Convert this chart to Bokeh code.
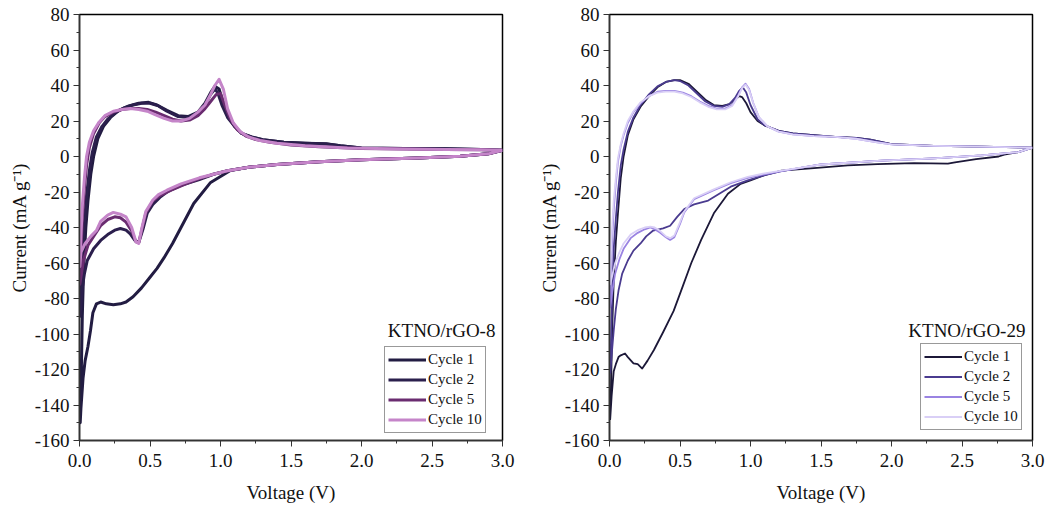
from bokeh.plotting import figure
from bokeh.layouts import row
from bokeh.models import Range1d, SingleIntervalTicker, PrintfTickFormatter, Label
from bokeh.embed import file_html
from bokeh.resources import INLINE

FONT = "Liberation Serif"

# ---------------- Left panel: KTNO/rGO-8 ----------------
L1_V = [3.0, 2.9, 2.7, 2.4, 2.0, 1.7, 1.4, 1.2, 1.07, 0.93, 0.81, 0.72, 0.66, 0.6, 0.55, 0.5, 0.44, 0.38, 0.33,
        0.29, 0.24, 0.19, 0.15, 0.12, 0.095, 0.078, 0.06, 0.04, 0.025, 0.01, 0.005,
        0.012, 0.02, 0.03, 0.045, 0.06, 0.08, 0.1, 0.13, 0.17, 0.22, 0.28, 0.35, 0.42, 0.49, 0.55, 0.62, 0.7,
        0.77, 0.84, 0.89, 0.93, 0.96, 0.99, 1.02, 1.06, 1.1, 1.15, 1.22, 1.3, 1.45, 1.6, 1.75, 1.85, 2.0, 2.3,
        2.6, 2.85, 3.0]
L1_I = [3.5, 1.5, 0.2, -0.8, -1.8, -3.0, -4.5, -6.0, -7.9, -14.6, -26.5, -40, -49, -57, -63, -68, -74, -79, -82,
        -83, -83.5, -83, -82, -83, -88, -98, -107, -115, -125, -142, -150,
        -125, -90, -62, -40, -25, -10, 0, 10, 17, 22, 26, 28.5, 30, 30.5, 29, 26, 23,
        22.5, 25, 30, 36, 39.5, 38, 30, 22, 17, 13, 11, 9.5, 8, 7.5, 7.2, 6, 4.8, 4.5,
        4.3, 4.0, 3.5]

L2_V = [3.0, 2.9, 2.7, 2.4, 2.0, 1.7, 1.4, 1.2, 1.05, 0.95, 0.85, 0.72, 0.63, 0.57, 0.52, 0.48, 0.45, 0.42, 0.39,
        0.36, 0.33, 0.29, 0.25, 0.2, 0.15, 0.1, 0.055, 0.035, 0.02, 0.01, 0.003,
        0.01, 0.02, 0.035, 0.05, 0.07, 0.09, 0.12, 0.16, 0.2, 0.26, 0.32, 0.38, 0.44, 0.5, 0.56, 0.62, 0.7, 0.77,
        0.84, 0.89, 0.93, 0.96, 0.98, 1.01, 1.05, 1.1, 1.15, 1.22, 1.3, 1.45, 1.6, 1.75, 1.85, 2.0, 2.3, 2.6,
        2.85, 3.0]
L2_I = [3.5, 1.5, 0.2, -0.8, -1.8, -3.0, -4.5, -6.0, -8.0, -10, -13, -16.3, -19.5, -23, -27, -32, -41, -48.5, -47,
        -43.6, -41.5, -40.6, -41.5, -44, -47.3, -52, -58.6, -66, -74, -84, -90,
        -75, -55, -38, -22, -8, 2, 11, 17, 21, 25, 27.5, 29, 30, 30, 28.5, 25.5, 22.5, 22,
        24.5, 29, 35, 38, 36, 29, 22, 17, 13, 11, 9.5, 8, 7.5, 7, 6, 4.8, 4.5, 4.3,
        4.0, 3.5]

L5_V = [3.0, 2.9, 2.7, 2.4, 2.0, 1.7, 1.4, 1.2, 1.05, 0.95, 0.85, 0.75, 0.65, 0.57, 0.52, 0.47, 0.44, 0.42, 0.4,
        0.37, 0.33, 0.29, 0.25, 0.2, 0.15, 0.1, 0.06, 0.03, 0.01, 0.002,
        0.01, 0.02, 0.035, 0.05, 0.07, 0.1, 0.14, 0.18, 0.24, 0.3, 0.36, 0.42, 0.48, 0.54, 0.6, 0.66, 0.72,
        0.78, 0.84, 0.89, 0.93, 0.97, 1.0, 1.03, 1.07, 1.12, 1.18, 1.25, 1.35, 1.5, 1.7, 2.0, 2.3, 2.6, 2.85, 3.0]
L5_I = [3.5, 1.5, 0.2, -0.8, -1.8, -3.0, -4.5, -6.0, -8, -10, -12.5, -15.5, -19, -22, -25, -32, -42, -48.5, -48,
        -42, -37, -34.5, -34, -35.5, -39, -45, -50, -58, -68, -72,
        -55, -35, -18, -5, 5, 13, 19, 22.5, 25, 26.5, 27, 27, 26.5, 25, 23, 21, 20,
        20.5, 23, 27, 31, 35, 35.5, 29, 21, 15, 11.5, 9.5, 8, 6.5, 5.5, 4.5, 4.2, 4.0, 3.8, 3.5]

L10_V = [3.0, 2.9, 2.7, 2.4, 2.0, 1.7, 1.4, 1.2, 1.05, 0.95, 0.85, 0.72, 0.62, 0.56, 0.52, 0.47, 0.44, 0.42, 0.4,
         0.37, 0.33, 0.29, 0.24, 0.2, 0.15, 0.12, 0.08, 0.04, 0.01, 0.002,
         0.01, 0.02, 0.035, 0.05, 0.07, 0.1, 0.14, 0.18, 0.24, 0.3, 0.36, 0.42, 0.48, 0.54, 0.6, 0.66, 0.72,
         0.78, 0.84, 0.89, 0.93, 0.96, 0.99, 1.02, 1.05, 1.09, 1.14, 1.2, 1.28, 1.4, 1.6, 1.9, 2.3, 2.6, 2.85, 3.0]
L10_I = [3.5, 1.5, 0.2, -0.8, -1.8, -3.0, -4.5, -6.0, -8, -10, -12, -15.4, -19, -21.5, -24.5, -31, -41, -49, -48,
         -40, -34, -32.5, -31.5, -33, -36.5, -41.7, -45, -49, -54, -62,
         -45, -28, -12, 0, 8, 14.5, 19.5, 23, 25.5, 26.5, 27, 26.5, 25.5, 23.5, 21.5, 20, 20,
         21.5, 25, 29, 35, 40, 43.5, 38, 27, 19, 14, 11, 9, 7.5, 6, 4.8, 4.2, 4.0, 3.8, 3.5]

# ---------------- Right panel: KTNO/rGO-29 ----------------
R1_V = [3.0, 2.9, 2.8, 2.76, 2.6, 2.45, 2.4, 2.16, 1.9, 1.69, 1.45, 1.22, 1.1, 1.0, 0.93, 0.84, 0.74, 0.65, 0.58,
        0.52, 0.455, 0.38, 0.315, 0.27, 0.232, 0.2, 0.17, 0.13, 0.11, 0.08, 0.064, 0.045, 0.03, 0.015, 0.005,
        0.012, 0.02, 0.03, 0.045, 0.06, 0.08, 0.1, 0.13, 0.17, 0.22, 0.28, 0.34, 0.4, 0.46, 0.5, 0.56, 0.62,
        0.68, 0.74, 0.8, 0.85, 0.89, 0.92, 0.94, 0.97, 1.0, 1.05, 1.1, 1.2, 1.3, 1.45, 1.6, 1.75, 1.85, 2.0,
        2.3, 2.64, 3.0]
R1_I = [5, 2.5, 1, 0, -1.5, -3.3, -4, -3.7, -4.3, -5, -6.5, -8, -10.5, -13.5, -15.4, -21, -32, -47, -60,
        -73, -87, -99, -109, -115, -119.5, -117, -116.5, -113, -111, -112, -113, -117, -121, -135, -148,
        -125, -95, -70, -48, -32, -12, 0, 12, 21, 28, 34, 39, 42, 43, 43, 41, 36.5,
        32, 29, 28.5, 29.5, 32, 34, 33.5, 30, 25, 20, 17.5, 14.5, 13, 12, 11, 10.5, 9.5, 7,
        6, 5.6, 5]

R2_V = [3.0, 2.9, 2.64, 2.3, 1.93, 1.5, 1.22, 1.1, 0.98, 0.86, 0.7, 0.6, 0.53, 0.48, 0.43, 0.38, 0.31,
        0.26, 0.22, 0.17, 0.13, 0.09, 0.064, 0.045, 0.03, 0.015, 0.005,
        0.012, 0.02, 0.03, 0.045, 0.06, 0.08, 0.1, 0.13, 0.17, 0.22, 0.28, 0.34, 0.4, 0.46, 0.5, 0.56, 0.62,
        0.68, 0.74, 0.8, 0.85, 0.89, 0.92, 0.945, 0.97, 1.0, 1.05, 1.1, 1.2, 1.3, 1.45, 1.6, 1.75, 1.85, 2.0,
        2.3, 2.64, 3.0]
R2_I = [5, 2.5, 0.6, -1, -2.3, -4.5, -8.3, -10.5, -13.5, -17, -24.8, -27, -29.6, -34, -39, -40.5, -41.7,
        -45, -49, -53, -58.6, -66, -75.5, -86, -98, -112, -122,
        -100, -75, -52, -35, -20, -5, 4, 14, 22, 29, 35, 39.5, 42, 43, 42.5, 40, 35.5,
        31, 28.5, 28, 29.5, 33, 37, 39, 36, 29, 21, 17.5, 14.5, 13, 12, 11, 10.5, 9.5, 7,
        6, 5.6, 5]

R5_V = [3.0, 2.9, 2.64, 2.3, 1.93, 1.5, 1.22, 1.1, 0.98, 0.86, 0.74, 0.6, 0.53, 0.5, 0.46, 0.43, 0.4, 0.36,
        0.32, 0.29, 0.25, 0.2, 0.15, 0.1, 0.07, 0.04, 0.02, 0.005,
        0.01, 0.02, 0.03, 0.045, 0.06, 0.08, 0.1, 0.13, 0.17, 0.22, 0.28, 0.34, 0.4, 0.46, 0.52, 0.58, 0.64,
        0.7, 0.76, 0.82, 0.87, 0.91, 0.94, 0.965, 0.99, 1.02, 1.06, 1.12, 1.2, 1.3, 1.45, 1.6, 1.75, 1.9, 2.0,
        2.3, 2.64, 3.0]
R5_I = [5, 2.5, 0.6, -1, -2.3, -4.5, -8.3, -10, -12, -15, -19, -24, -31.5, -38, -45.5, -47, -45.5, -43,
        -41, -40, -41, -43, -46, -52, -58, -66, -76, -85,
        -65, -45, -30, -15, -3, 6, 12, 19, 25, 30, 34, 36.5, 37, 37, 36, 34, 31,
        28.5, 27, 27, 29, 34, 39, 41, 38, 30, 22, 17, 14, 12.5, 11.5, 11, 10, 8, 6.8,
        6, 5.6, 5]

R10_V = [3.0, 2.9, 2.64, 2.3, 1.93, 1.5, 1.22, 1.1, 0.98, 0.86, 0.74, 0.6, 0.53, 0.5, 0.46, 0.43, 0.4, 0.36,
         0.32, 0.29, 0.25, 0.2, 0.15, 0.1, 0.07, 0.04, 0.02, 0.005,
         0.01, 0.02, 0.03, 0.045, 0.06, 0.08, 0.1, 0.13, 0.17, 0.22, 0.28, 0.34, 0.4, 0.46, 0.52, 0.58, 0.64,
         0.7, 0.76, 0.82, 0.87, 0.91, 0.94, 0.965, 0.99, 1.02, 1.06, 1.12, 1.2, 1.3, 1.45, 1.6, 1.75, 1.9, 2.0,
         2.3, 2.64, 3.0]
R10_I = [5, 2.5, 0.6, -1, -2.3, -4.5, -8.0, -9.5, -11.5, -14.5, -18.5, -23.5, -31, -37, -44.5, -46, -45, -42,
         -40, -39.5, -40, -41.5, -44, -49, -54, -60, -67, -72,
         -55, -38, -25, -12, -1, 7, 13, 20, 25.5, 30.5, 34, 36, 36.5, 36.5, 35.5, 33.5, 30.5,
         28, 26.5, 26.5, 28.5, 33.5, 38.5, 40.5, 37.5, 30, 22, 17, 14, 12.5, 11.5, 11, 10, 8, 6.8,
         6, 5.6, 5]

CYCLE_LABELS = ["Cycle 1", "Cycle 2", "Cycle 5", "Cycle 10"]
LEFT_COLORS = ["#221c42", "#2b1f4d", "#6a2c70", "#c585c9"]
RIGHT_COLORS = ["#1c1838", "#4a3b8f", "#9a83e2", "#d9cff6"]


def make_panel(series, colors, lw, title, legend_loc, border_right):
    p = figure(frame_width=423, frame_height=426, output_backend="svg", toolbar_location=None,
               x_range=Range1d(0, 3.0), y_range=Range1d(-160, 80),
               min_border_left=79, min_border_right=border_right, min_border_top=14, min_border_bottom=68,
               background_fill_color="white", border_fill_color="white")
    p.grid.visible = False
    p.outline_line_color = "black"
    p.outline_line_width = 1.5
    for (vx, iy), c, lab in zip(series, colors, CYCLE_LABELS):
        p.line(vx, iy, line_color=c, line_width=lw, legend_label=lab, line_join="round")

    p.xaxis.ticker = SingleIntervalTicker(interval=0.5, num_minor_ticks=2)
    p.yaxis.ticker = SingleIntervalTicker(interval=20, num_minor_ticks=2)
    p.xaxis.formatter = PrintfTickFormatter(format="%.1f")
    p.yaxis.formatter = PrintfTickFormatter(format="%d")
    p.xaxis.axis_label = "Voltage (V)"
    p.yaxis.axis_label = "Current (mA g\u207b\u00b9)"
    for ax in (p.xaxis, p.yaxis):
        ax.axis_line_color = "#333333"
        ax.axis_line_width = 1.5
        ax.major_tick_line_color = "#333333"
        ax.minor_tick_line_color = "#333333"
        ax.major_tick_in = 0
        ax.major_tick_out = 6
        ax.minor_tick_in = 0
        ax.minor_tick_out = 3
        ax.major_label_text_font = FONT
        ax.major_label_text_font_size = "19px"
        ax.major_label_text_color = "#111111"
        ax.axis_label_text_font = FONT
        ax.axis_label_text_font_size = "19px"
        ax.axis_label_text_font_style = "normal"
        ax.axis_label_text_color = "#111111"
    p.xaxis.major_label_standoff = 7
    p.yaxis.major_label_standoff = 4
    p.xaxis.axis_label_standoff = 12
    p.yaxis.axis_label_standoff = 2

    lg = p.legend[0]
    lg.location = legend_loc
    lg.label_text_font = FONT
    lg.label_text_font_size = "15px"
    lg.label_text_color = "#111111"
    lg.label_height = 19
    lg.glyph_height = 19
    lg.glyph_width = 38
    lg.label_standoff = 2
    lg.spacing = 1
    lg.padding = 3
    lg.margin = 0
    lg.border_line_color = "#333333"
    lg.border_line_width = 1
    lg.background_fill_alpha = 1.0

    p.add_layout(Label(x=2.95, y=-98, text=title, text_align="right", text_baseline="middle",
                       text_font=FONT, text_font_size="19px", text_color="#111111"))
    return p


left = make_panel([(L1_V, L1_I), (L2_V, L2_I), (L5_V, L5_I), (L10_V, L10_I)], LEFT_COLORS, 3,
                  "KTNO/rGO-8", (305, 7), 28)
right = make_panel([(R1_V, R1_I), (R2_V, R2_I), (R5_V, R5_I), (R10_V, R10_I)], RIGHT_COLORS, 1.8,
                   "KTNO/rGO-29", (311, 10), 18)

layout = row(left, right, spacing=0)
open("out.html", "w").write(file_html(layout, INLINE))
